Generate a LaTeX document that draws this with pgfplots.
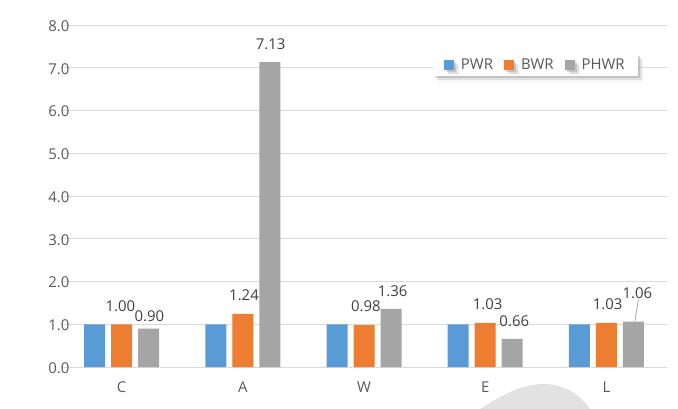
\documentclass[border=0pt]{standalone}
\usepackage{pgfplots}
\pgfplotsset{compat=1.18}
\usepackage{fontspec}
\setmainfont{Open Sans}
\usetikzlibrary{shadows}
\definecolor{cpwr}{HTML}{5B9BD5}
\definecolor{cbwr}{HTML}{ED7D31}
\definecolor{cphwr}{HTML}{A5A5A5}
\definecolor{cgrid}{HTML}{D9D9D9}
\definecolor{ctick}{HTML}{595959}
\definecolor{clab}{HTML}{404040}
\definecolor{carc}{HTML}{E2E2E2}
\newcommand\lf{\fontsize{15}{18}\selectfont}
\begin{document}
\begin{tikzpicture}[x=1bp,y=1bp]
\useasboundingbox (-61bp,-42bp) rectangle (617bp,367bp);
\fill[carc] (419,-42) .. controls (445,-25) and (465,-17) .. (482,-17) .. controls (500,-17) and (518,-25) .. (529,-42) -- cycle;
\begin{axis}[
  at={(0,0)}, anchor=south west,
  scale only axis,
  width=606bp, height=342bp,
  xmin=-0.5, xmax=4.5,
  ymin=0, ymax=8,
  xtick={0,1,2,3,4},
  xticklabels={C,A,W,E,L},
  ytick={0,1,...,8},
  ymajorgrids,
  grid style={cgrid, line width=0.8bp},
  axis line style={draw=none},
  major tick length=0pt,
  tick style={draw=none},
  /pgf/number format/assume math mode=true,
  ticklabel style={font=\lf, text=ctick},
  yticklabel style={xshift=12bp, yshift=-1bp, /pgf/number format/fixed, /pgf/number format/fixed zerofill, /pgf/number format/precision=1},
  xticklabel style={yshift=-11bp},
  legend style={at={(0.952,0.915)}, anchor=north east, draw=none, fill=white,
    drop shadow={shadow xshift=2bp, shadow yshift=-2bp, opacity=0.3},
    drop shadow={shadow xshift=4bp, shadow yshift=-4bp, opacity=0.18},
    drop shadow={shadow xshift=5.5bp, shadow yshift=-5.5bp, opacity=0.08},
    font=\lf, text=ctick,
    nodes={inner xsep=2bp},
    legend columns=3, inner xsep=11bp, inner ysep=3bp,
    /tikz/every odd column/.append style={column sep=5bp},
    /tikz/every even column/.append style={column sep=9bp}},
  legend image code/.code={\fill[#1] (0bp,-4.5bp) rectangle (10bp,5.5bp);},
  clip=false,
]
\addplot[fill=cpwr, draw=none, ybar, bar width=21bp, bar shift=-27bp] coordinates {(0,1.00) (1,1.00) (2,1.00) (3,1.00) (4,1.00)};
\addlegendentry{PWR}
\addplot[fill=cbwr, draw=none, ybar, bar width=21bp, bar shift=0bp] coordinates {(0,1.00) (1,1.24) (2,0.98) (3,1.03) (4,1.03)};
\addlegendentry{BWR}
\addplot[fill=cphwr, draw=none, ybar, bar width=21bp, bar shift=27bp] coordinates {(0,0.90) (1,7.13) (2,1.36) (3,0.66) (4,1.06)};
\addlegendentry{PHWR}
\addplot[draw=cphwr, line width=0.8bp, forget plot] coordinates {(4.236,1.08) (4.264,1.58)};
\addplot[draw=none, mark=none, forget plot, nodes near coords, point meta=explicit symbolic,
  every node near coord/.style={anchor=center, inner sep=0pt, font=\lf, text=clab}]
  table[meta=lab] {
x y lab
-0.010 1.43 1.00
0.229 1.19 0.90
1.010 1.68 1.24
1.230 7.55 7.13
2.016 1.43 0.98
2.237 1.78 1.36
3.020 1.47 1.03
3.240 1.08 0.66
4.010 1.47 1.03
4.255 1.72 1.06
};
\end{axis}
\end{tikzpicture}
\end{document}
